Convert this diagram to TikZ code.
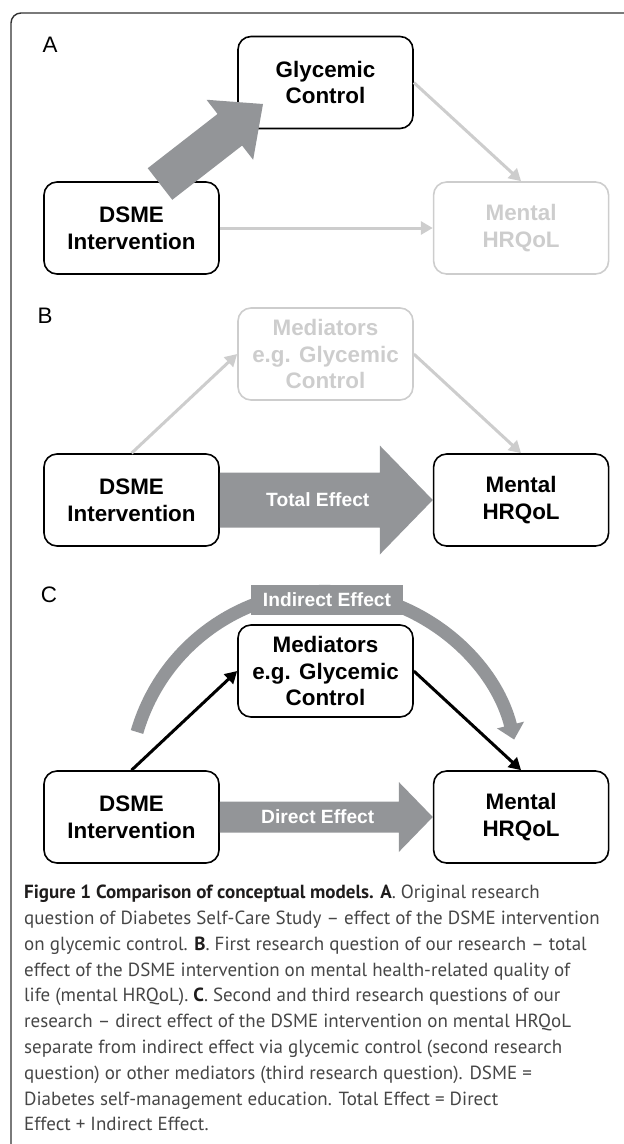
\documentclass[tikz,border=0pt]{standalone}
\usepackage{fontspec}
\setmainfont{Liberation Sans}
\newfontfamily\capfont{PT Sans}
\usetikzlibrary{calc,arrows.meta,positioning}
\definecolor{effgray}{RGB}{147,149,152}
\definecolor{fadegray}{RGB}{205,205,205}
\definecolor{framegray}{RGB}{50,50,50}
\definecolor{capblack}{RGB}{30,28,28}
\definecolor{capgray}{RGB}{70,70,70}
% block arrow: tail, tip, shaft half width, head half width, head length
\newcommand{\fatarrow}[5]{%
  \coordinate (hb) at ($(#2)!#5!(#1)$);
  \fill[effgray] ($(#1)!#3!90:(#2)$) -- ($(hb)!#3!90:(#2)$) -- ($(hb)!#4!90:(#2)$) -- (#2)
    -- ($(hb)!#4!-90:(#2)$) -- ($(hb)!#3!-90:(#2)$) -- ($(#1)!#3!-90:(#2)$) -- cycle;}
\newcommand{\capb}[1]{\textcolor{capblack}{\textbf{#1}}}

\begin{document}
\begin{tikzpicture}[x=1pt,y=-1pt,
  box/.style={draw, line width=1.6pt, rounded corners=13pt, minimum width=175pt,
    minimum height=92pt, align=center, inner sep=0pt,
    font=\fontsize{22.4}{26.7}\selectfont\bfseries},
  faded/.style={box, draw=fadegray, text=fadegray},
  link/.style={line width=3pt, -{Triangle[length=12pt,width=13pt]}},
  efflabel/.style={text=white, inner sep=0pt, font=\fontsize{19.2}{22}\selectfont\bfseries},
  panel/.style={font=\fontsize{22.4}{26}\selectfont}]
  \useasboundingbox (0,0) rectangle (624,1144);
  \draw[framegray, line width=1.4pt, rounded corners=10pt] (11,1144) -- (11,13) -- (630,13);

  % A
  \node[panel] (labA) at (50,45) {A};
  \node[box] (glyA) at (325.5,82.5) {Glycemic\\Control};
  \node[box] (dsmeA) at (131.5,228) {DSME\\Intervention};
  \node[faded, right=213pt of dsmeA] (mentalA) {Mental\\HRQoL};
  \draw[link, fadegray] (glyA.east) -- (mentalA.north);
  \draw[link, fadegray] (dsmeA.east) -- (mentalA.west);
  \coordinate (fatA0) at (160,184);
  \coordinate (fatA1) at (263,104);
  \fatarrow{fatA0}{fatA1}{20pt}{38pt}{42pt}

  % B
  \node[panel] (labB) at (45,316) {B};
  \node[faded] (medB) at (325.5,354) {Mediators\\e.g. Glycemic\\Control};
  \node[box] (dsmeB) at (131.5,500) {DSME\\Intervention};
  \node[box, right=213pt of dsmeB] (mentalB) {Mental\\HRQoL};
  \draw[link, fadegray] (dsmeB.north) -- (medB.west);
  \draw[link, fadegray] (medB.east) -- (mentalB.north);
  \fatarrow{dsmeB.east}{mentalB.west}{27.5pt}{54.5pt}{53pt}
  \node[efflabel] (totB) at ($(dsmeB.east)!0.46!(mentalB.west)$) {Total Effect};

  % C
  \node[panel] (labC) at (49,595) {C};
  \node[box] (medC) at (325.5,671) {Mediators\\e.g. Glycemic\\Control};
  \node[box] (dsmeC) at (131.5,817) {DSME\\Intervention};
  \node[box, right=213pt of dsmeC] (mentalC) {Mental\\HRQoL};
  \coordinate (indA0) at (137,732);
  \draw[effgray, line width=13pt, -{Triangle[length=15pt,width=27pt]}]
    (indA0) arc[start angle=196.3, end angle=346, radius=195.4];
  \node[efflabel, fill=effgray, minimum width=152pt, minimum height=30pt] (indC) at (327,600) {Indirect Effect};
  \fatarrow{dsmeC.east}{mentalC.west}{15.5pt}{35pt}{34pt}
  \node[efflabel] (dirC) at ($(dsmeC.east)!0.46!(mentalC.west)$) {Direct Effect};
  \draw[link] (dsmeC.north) -- (medC.west);
  \draw[link] (medC.east) -- (mentalC.north);

  % caption
  \node[anchor=north west, align=left, inner sep=0pt, text=capgray,
    font=\capfont\fontsize{19}{25.8}\selectfont] (caption) at (24,885)
    {\capb{Figure 1 Comparison of conceptual models. A}. Original research\\
     question of Diabetes Self-Care Study – effect of the DSME intervention\\
     on glycemic control. \capb{B}. First research question of our research – total\\
     effect of the DSME intervention on mental health-related quality of\\
     life (mental HRQoL). \capb{C}. Second and third research questions of our\\
     research – direct effect of the DSME intervention on mental HRQoL\\
     separate from indirect effect via glycemic control (second research\\
     question) or other mediators (third research question). DSME =\\
     Diabetes self-management education. Total Effect = Direct\\
     Effect + Indirect Effect.};
\end{tikzpicture}
\end{document}
